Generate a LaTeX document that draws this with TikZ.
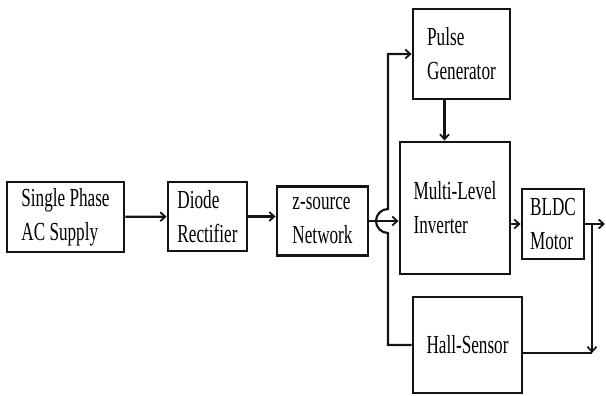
\documentclass[tikz,border=0pt]{standalone}
\usepackage{fontspec}
\setmainfont{Liberation Serif}[FakeStretch=0.66]
\usepackage{tikz}
\usetikzlibrary{arrows.meta}
\usepackage{xcolor}
\definecolor{ink}{RGB}{20,20,20}
\tikzset{
  box/.style={draw=ink,line width=2.8pt,fill=white,inner sep=0pt,
    font=\fontsize{26}{34}\selectfont,align=left},
  arr/.style={-{Straight Barb[length=5pt,width=9pt,line width=1.8pt]},line width=2.2pt,ink},
  wire/.style={line width=2.2pt,ink},
}

\begin{document}
\begin{tikzpicture}[x=1pt,y=-1pt]
  \useasboundingbox (0,0) rectangle (606,396);
  % main power path
  \node[box,minimum width=117pt,minimum height=70pt] (supply) at (65.5,217) {Single Phase\\AC Supply};
  \node[box,minimum width=79pt,minimum height=69pt] (rect) at (207.5,216.5) {Diode\\Rectifier};
  \node[box,minimum width=91pt,minimum height=69pt] (zsrc) at (322.5,221) {z-source\\Network};
  \node[box,minimum width=110pt,minimum height=132pt] (inv) at (455,208) {Multi-Level\\Inverter};
  \node[box,minimum width=62pt,minimum height=70pt] (bldc) at (553,224) {BLDC\\Motor};
  % control blocks
  \node[box,minimum width=97pt,minimum height=90pt] (pulse) at (461.5,54) {Pulse\\Generator};
  \node[box,minimum width=109pt,minimum height=96pt] (hall) at (467.5,345) {Hall-Sensor};
  \coordinate (tap) at (592,224);
  \coordinate (out) at (605,224);
  \coordinate (fb) at (592,353);
  \draw[arr] (supply) -- (rect);
  \draw[arr] (rect.east) -- (rect.east -| zsrc.west);
  \draw[arr] (zsrc) -- (zsrc -| inv.west);
  \draw[arr] (bldc.west -| inv.east) -- (bldc.west);
  \draw[arr] ([xshift=-17pt]pulse.south) -- ([xshift=-17pt]pulse.south |- inv.north);
  \draw[arr] (bldc.east) -- (out);
  \draw[arr] (tap) -- (fb);
  \draw[wire] ([yshift=-8pt]hall.east) -- (fb);
  % feedback to the pulse generator, hopping over the inverter input
  \draw[arr] (hall.west) -- (388,345) -- (388,233)
    arc[start angle=90,end angle=270,radius=12] -- (388,54) -- (pulse.west);
\end{tikzpicture}
\end{document}
